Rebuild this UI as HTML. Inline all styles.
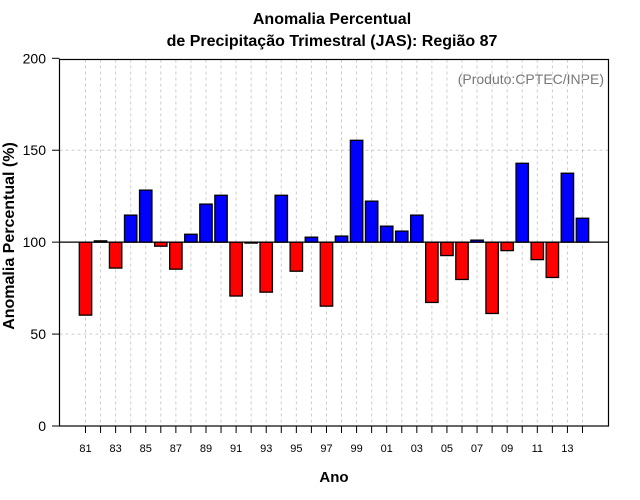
<!DOCTYPE html>
<html><head><meta charset="utf-8"><style>
body{margin:0;background:#fff;}
svg{display:block;font-family:"Liberation Sans",sans-serif;}
</style></head><body>
<svg id="chart" width="640" height="500" viewBox="0 0 640 500" xmlns="http://www.w3.org/2000/svg">
<rect width="640" height="500" fill="#fff"/>
<text x="332" y="24" text-anchor="middle" font-size="16" font-weight="bold">Anomalia Percentual</text>
<text x="332" y="46" text-anchor="middle" font-size="16" font-weight="bold">de Precipitação Trimestral (JAS): Região 87</text>
<text x="604" y="84" text-anchor="end" font-size="14" fill="#777">(Produto:CPTEC/INPE)</text>
<text x="334" y="482" text-anchor="middle" font-size="15" font-weight="bold">Ano</text>
<text transform="translate(14,236) rotate(-90)" text-anchor="middle" font-size="16" font-weight="bold">Anomalia Percentual (%)</text>
<g id="grid"></g><g id="bars"></g><g id="axes"></g>
</svg>
<script>
const years = ["81","82","83","84","85","86","87","88","89","90","91","92","93","94","95","96","97","98","99","00","01","02","03","04","05","06","07","08","09","10","11","12","13","14"];
const values = [60.3,100.7,85.9,114.7,128.3,97.8,85.3,104.3,120.7,125.5,70.7,99.5,72.8,125.5,84.2,102.7,65.2,103.3,155.4,122.3,108.7,106,114.7,67.2,92.7,79.7,101.1,61.2,95.4,142.9,90.5,80.8,137.5,113];
const yTicks = [0,50,100,150,200];
const NS="http://www.w3.org/2000/svg";
const L=59.5,R=608.5,T=59.5,B=426;
function y(v){return B-(v/200)*(B-58.3);}
function xc(i){return 85.5+i*15.06;}
function mk(tag,attrs,parent){const e=document.createElementNS(NS,tag);for(const k in attrs)e.setAttribute(k,attrs[k]);parent.appendChild(e);return e;}
const grid=document.getElementById('grid'),bars=document.getElementById('bars'),axes=document.getElementById('axes');
years.forEach((yr,i)=>{
  const g=mk('line',{x1:xc(i),x2:xc(i),y1:T,y2:B,stroke:'#ccc','stroke-dasharray':'3,3','stroke-width':1},grid);
  
  
});
[50,100,150].forEach(v=>{
  const g=mk('line',{x1:L,x2:R,y1:y(v),y2:y(v),stroke:'#ccc','stroke-dasharray':'3,3','stroke-width':1},grid);
  
  
});
values.forEach((v,i)=>{
  const top=Math.min(y(v),y(100)),h=Math.abs(y(v)-y(100));
  const r=mk('rect',{x:xc(i)-6.2,y:top,width:12.4,height:Math.max(h,0.5),fill:v>=100?'#0000ff':'#ff0000',stroke:'#000','stroke-width':1.3},bars);
  
  
});
const base=mk('line',{x1:L,x2:R,y1:y(100),y2:y(100),stroke:'#000','stroke-width':1.3},axes);


const box=mk('rect',{x:L,y:T,width:R-L,height:B-T,fill:'none',stroke:'#000','stroke-width':1.2},axes);


yTicks.forEach(v=>{
  const t=mk('line',{x1:52,x2:L,y1:y(v),y2:y(v),stroke:'#000','stroke-width':1},axes);
  
  
  const lb=mk('text',{x:46,y:y(v)+5,'text-anchor':'end','font-size':14},axes);
  
  
  lb.textContent=v;
});
years.forEach((yr,i)=>{
  const t=mk('line',{x1:xc(i),x2:xc(i),y1:B,y2:B+7,stroke:'#000','stroke-width':1},axes);
  
  
  if(i%2===0){
    const lb=mk('text',{x:xc(i),y:452,'text-anchor':'middle','font-size':11},axes);
    
    
    lb.textContent=yr;
  }
});
</script>
</body></html>
